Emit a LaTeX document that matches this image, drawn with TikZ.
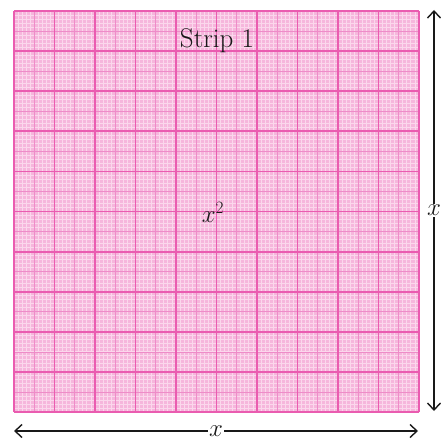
\documentclass[tikz,border=0pt]{standalone}
\usetikzlibrary{arrows.meta}
\definecolor{paper}{RGB}{246,182,220}
\definecolor{fineline}{RGB}{251,215,236}
\definecolor{midline}{RGB}{238,140,200}
\definecolor{majorline}{RGB}{234,92,176}
\begin{document}
\begin{tikzpicture}[x=1pt,y=-1pt,
  arr/.style={{Straight Barb[length=7pt,width=13pt]}-{Straight Barb[length=7pt,width=13pt]}, line width=1.4pt, black!90},
  lbl/.style={fill=white, inner sep=1.5pt, font=\fontsize{25}{27}\selectfont, text=black!90},
  txt/.style={font=\fontsize{27}{29}\selectfont, text=black!90, inner sep=0pt},
  fine/.style={fineline, line width=0.9pt},
  mid/.style={midline, line width=0.6pt},
  major/.style={majorline, line width=1.8pt}]
\useasboundingbox (0,0) rectangle (441,444);
% paper
\node[fill=paper, minimum width=405pt, minimum height=401pt, inner sep=0pt, anchor=north west] (sq) at (14,11) {};
% fine grid
\foreach \i in {1,...,99}{
  \draw[fine] ({14+4.05*\i},11) -- ({14+4.05*\i},412);
  \draw[fine] (14,{11+4.01*\i}) -- (419,{11+4.01*\i});
}
% medium grid
\foreach \i in {1,3,...,19}{
  \draw[mid] ({14+20.25*\i},11) -- ({14+20.25*\i},412);
  \draw[mid] (14,{11+20.05*\i}) -- (419,{11+20.05*\i});
}
% major grid
\foreach \i in {0,...,10}{
  \draw[major] ({14+40.5*\i},11) -- ({14+40.5*\i},412);
  \draw[major] (14,{11+40.1*\i}) -- (419,{11+40.1*\i});
}
% texts
\node[txt] (strip) at (217,41) {Strip 1};
\node[txt] (area) at (213,212) {$x^2$};
% arrows
\coordinate (vt) at (434,10);
\coordinate (vb) at (434,411);
\coordinate (hl) at (14,431);
\coordinate (hr) at (418,431);
\draw[arr] (vt) -- node[lbl] (vx) {$x$} (vb);
\draw[arr] (hl) -- node[lbl] (hx) {$x$} (hr);
\end{tikzpicture}
\end{document}
